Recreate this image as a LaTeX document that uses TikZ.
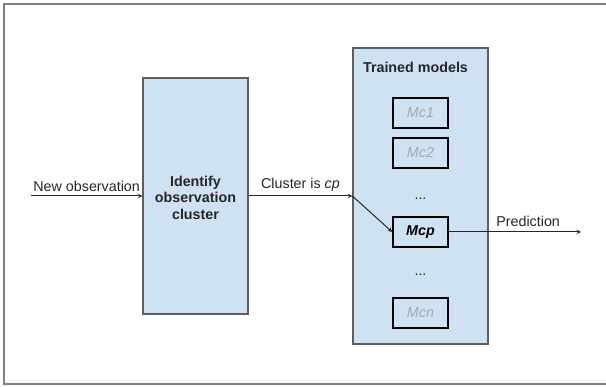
\documentclass[tikz,border=0pt]{standalone}
\usepackage{fontspec}
\setmainfont{Liberation Sans}
\usetikzlibrary{
		positioning,
		arrows.meta
	}
\tikzset{
		>=stealth
	}
\definecolor{boxblue}{HTML}{CFE2F3}
\definecolor{boxline}{HTML}{5F5F5F}
\definecolor{modelgrey}{HTML}{A8A8A8}
\newcommand{\ldraw}{black!85}

\begin{document}
\begin{tikzpicture}[x=1pt, y=-1pt, font=\fontsize{14.3}{16.5}\selectfont,
		stage/.style={draw=boxline, line width=1.3pt, fill=boxblue, inner sep=0pt},
		model/.style={draw=black, line width=1.6pt, fill=boxblue, minimum width=55pt, minimum height=30pt, inner sep=0pt, font=\fontsize{14.3}{16.5}\selectfont\itshape},
		flow/.style={\ldraw, line width=1pt, ->}
	]
		\useasboundingbox (0,0) rectangle (606,387);
		\draw[gray, line width=2pt] (606,4) -- (4,4) -- (4,384) -- (606,384);
		% clustering stage and the bank of models
		\node[stage, minimum width=105pt, minimum height=236pt] (ident) at (195.5,196) {};
		\node[font=\fontsize{14.3}{16.5}\selectfont\bfseries, align=center, text=\ldraw] at (195.5,197.5) {Identify\\observation\\cluster};
		\node[stage, minimum width=135pt, minimum height=296pt] (bank) at (420.5,196) {};
		\node[font=\fontsize{14.3}{16.5}\selectfont\bfseries, text=\ldraw] (title) at (415.5,67) {Trained models};
		\node[model, text=modelgrey] (mc1) at (420.5,113) {Mc1};
		\node[model, text=modelgrey] (mc2) at (420.5,153) {Mc2};
		\node[text=\ldraw] (dotsA) at (420.5,199) {...};
		\node[model, font=\fontsize{14.3}{16.5}\selectfont\bfseries\itshape] (mcp) at (420.5,232) {Mcp};
		\node[text=\ldraw] (dotsB) at (420.5,275) {...};
		\node[model, text=modelgrey] (mcn) at (420.5,313) {Mcn};
		% connectors
		\coordinate (start) at (31,196);
		\coordinate (entry) at (bank.west |- start);
		\coordinate (finish) at (581,232);
		\draw[flow] (start) -- (ident.west |- start) node[midway, above=1pt, text=\ldraw] {New observation};
		\draw[flow] (ident.east |- start) -- (entry) node[midway, above=1pt, text=\ldraw] {Cluster is \textit{cp}};
		\draw[flow] (entry) -- (mcp.west);
		\draw[flow] (mcp.east) -- (finish) node[pos=0.6, above=2pt, text=\ldraw] {Prediction};
	\end{tikzpicture}
\end{document}
